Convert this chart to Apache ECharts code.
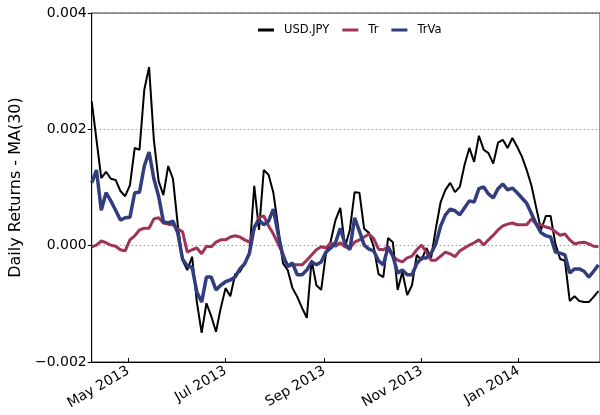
<!DOCTYPE html>
<html>
<head>
<meta charset="utf-8">
<script src="https://cdn.jsdelivr.net/npm/echarts@6/dist/echarts.min.js"></script>
<style>
  html, body { margin: 0; padding: 0; background: #fff; }
  #chartin { width: 600px; height: 415px; }
</style>
</head>
<body>
<div id="chartin"></div>
<script>
// sampled dates (every 3 days)
const dates = [
  '2013-04-08','2013-04-11','2013-04-14','2013-04-17','2013-04-20','2013-04-23','2013-04-26','2013-04-29',
  '2013-05-02','2013-05-05','2013-05-08','2013-05-11','2013-05-14','2013-05-17','2013-05-20','2013-05-23','2013-05-26','2013-05-29',
  '2013-06-01','2013-06-04','2013-06-07','2013-06-10','2013-06-13','2013-06-16','2013-06-19','2013-06-22','2013-06-25','2013-06-28',
  '2013-07-01','2013-07-04','2013-07-07','2013-07-10','2013-07-13','2013-07-16','2013-07-19','2013-07-22','2013-07-25','2013-07-28','2013-07-31',
  '2013-08-03','2013-08-06','2013-08-09','2013-08-12','2013-08-15','2013-08-18','2013-08-21','2013-08-24','2013-08-27','2013-08-30',
  '2013-09-02','2013-09-05','2013-09-08','2013-09-11','2013-09-14','2013-09-17','2013-09-20','2013-09-23','2013-09-26','2013-09-29',
  '2013-10-02','2013-10-05','2013-10-08','2013-10-11','2013-10-14','2013-10-17','2013-10-20','2013-10-23','2013-10-26','2013-10-29',
  '2013-11-01','2013-11-04','2013-11-07','2013-11-10','2013-11-13','2013-11-16','2013-11-19','2013-11-22','2013-11-25','2013-11-28',
  '2013-12-01','2013-12-04','2013-12-07','2013-12-10','2013-12-13','2013-12-16','2013-12-19','2013-12-22','2013-12-25','2013-12-28','2013-12-31',
  '2014-01-03','2014-01-06','2014-01-09','2014-01-12','2014-01-15','2014-01-18','2014-01-21','2014-01-24','2014-01-27','2014-01-30',
  '2014-02-02','2014-02-05','2014-02-08','2014-02-11','2014-02-14','2014-02-17','2014-02-20'
];

const usdJpy = [
  0.00248, 0.00182, 0.00116, 0.00127, 0.00115, 0.00113, 0.00094, 0.00085,
  0.00104, 0.00168, 0.00165, 0.00268, 0.00307, 0.00182, 0.00111, 0.00087, 0.00137, 0.00115,
  0.00036, -0.00025, -0.00042, -0.00019, -0.00097, -0.00150, -0.00099, -0.00121, -0.00148, -0.00107,
  -0.00073, -0.00087, -0.00049, -0.00045, -0.00031, -0.00013, 0.00103, 0.00027, 0.00130, 0.00122, 0.00091,
  0.00032, -0.00030, -0.00042, -0.00073, -0.00088, -0.00107, -0.00124, -0.00025, -0.00068, -0.00076,
  -0.00014, 0.00008, 0.00044, 0.00065, -0.00002, 0.00027, 0.00092, 0.00091, 0.00029, 0.00022,
  -0.00002, -0.00049, -0.00054, 0.00013, 0.00006, -0.00076, -0.00045, -0.00085, -0.00068, -0.00016,
  -0.00025, -0.00004, -0.00021, 0.00030, 0.00075, 0.00096, 0.00108, 0.00092, 0.00101, 0.00139,
  0.00168, 0.00144, 0.00189, 0.00165, 0.00159, 0.00141, 0.00177, 0.00182, 0.00168, 0.00185, 0.00170,
  0.00153, 0.00130, 0.00103, 0.00065, 0.00027, 0.00051, 0.00051, 0.00003, -0.00023, -0.00026,
  -0.00095, -0.00087, -0.00095, -0.00097, -0.00097, -0.00088, -0.00078
];

const tr = [
  -0.00002, 0.00001, 0.00008, 0.00005, 0.00001, -0.00001, -0.00007, -0.00009,
  0.00010, 0.00017, 0.00027, 0.00030, 0.00030, 0.00046, 0.00048, 0.00039, 0.00037, 0.00036,
  0.00029, 0.00024, -0.00011, -0.00007, -0.00004, -0.00014, -0.00001, -0.00002, 0.00006, 0.00010,
  0.00010, 0.00015, 0.00017, 0.00015, 0.00010, 0.00006, 0.00029, 0.00049, 0.00051, 0.00034, 0.00020,
  0.00003, -0.00014, -0.00036, -0.00033, -0.00033, -0.00033, -0.00025, -0.00016, -0.00007, -0.00002,
  -0.00004, 0.00005, -0.00001, 0.00005, -0.00002, -0.00004, 0.00006, 0.00010, 0.00015, 0.00020,
  0.00012, -0.00006, -0.00007, -0.00002, -0.00018, -0.00025, -0.00028, -0.00021, -0.00018, -0.00007,
  0.00001, -0.00011, -0.00025, -0.00025, -0.00018, -0.00011, -0.00014, -0.00019, -0.00009, -0.00004,
  0.00001, 0.00005, 0.00010, 0.00001, 0.00010, 0.00018, 0.00027, 0.00034, 0.00037, 0.00039, 0.00036,
  0.00036, 0.00036, 0.00046, 0.00037, 0.00036, 0.00032, 0.00030, 0.00024, 0.00018, 0.00020,
  0.00010, 0.00003, 0.00005, 0.00006, 0.00003, -0.00001, -0.00002
];

const trVa = [
  0.00108, 0.00130, 0.00061, 0.00091, 0.00077, 0.00061, 0.00044, 0.00048,
  0.00049, 0.00091, 0.00092, 0.00137, 0.00161, 0.00115, 0.00085, 0.00041, 0.00039, 0.00042,
  0.00022, -0.00023, -0.00035, -0.00037, -0.00080, -0.00097, -0.00054, -0.00054, -0.00076, -0.00068,
  -0.00062, -0.00059, -0.00054, -0.00040, -0.00031, -0.00013, 0.00032, 0.00044, 0.00036, 0.00042, 0.00063,
  0.00020, -0.00018, -0.00035, -0.00030, -0.00050, -0.00050, -0.00042, -0.00028, -0.00033, -0.00028,
  -0.00011, -0.00004, 0.00005, 0.00030, 0.00003, -0.00007, 0.00048, 0.00025, 0.00001, -0.00006,
  -0.00009, -0.00026, -0.00033, -0.00002, -0.00018, -0.00047, -0.00042, -0.00050, -0.00050, -0.00031,
  -0.00021, -0.00021, -0.00013, 0.00003, 0.00034, 0.00053, 0.00063, 0.00060, 0.00053, 0.00065,
  0.00077, 0.00075, 0.00098, 0.00101, 0.00089, 0.00082, 0.00098, 0.00106, 0.00096, 0.00099, 0.00091,
  0.00082, 0.00073, 0.00055, 0.00037, 0.00022, 0.00017, 0.00015, -0.00011, -0.00013, -0.00016,
  -0.00047, -0.00040, -0.00040, -0.00044, -0.00054, -0.00044, -0.00033
];

const tickDates = ['2013-05-01', '2013-07-01', '2013-09-01', '2013-11-01', '2014-01-01'];
const tickLabels = ['May 2013', 'Jul 2013', 'Sep 2013', 'Nov 2013', 'Jan 2014'];
const xStart = '2013-04-08';
const xEnd = '2014-02-21';

function toTime(s){
    const p = s.split('-');
    return new Date(+p[0], +p[1] - 1, +p[2]).getTime();
}

function pairs(values){
    return dates.map((d, i) => [toTime(d), values[i]]);
}

const tickTimes = tickDates.map(toTime);
const font = 'DejaVu Sans';

let myChart = echarts.init(document.getElementById('chartin'));

let option = {
    animation: false,
    backgroundColor: '#fff',
    grid: {
        left: 86, right: -1, top: 13, bottom: 53,
        show: true, borderColor: '#333', borderWidth: 1
    },
    legend: {
        left: 253, top: 19,
        itemWidth: 16, itemHeight: 3, itemGap: 13,
        icon: 'rect',
        textStyle: { fontFamily: font, fontSize: 11.5, color: '#000', padding: [0, 0, 0, 5] },
        data: ['USD.JPY', 'Tr', 'TrVa']
    },
    xAxis: {
        // dates as timestamps on a plain value scale
        type: 'value',
        min: toTime(xStart),
        max: toTime(xEnd),
        axisLine: { onZero: false, lineStyle: { color: '#000', width: 1 } },
        axisTick: { show: true, inside: true, length: 4, customValues: tickTimes, lineStyle: { color: '#000' } },
        axisLabel: {
            customValues: tickTimes,
            rotate: 30,
            margin: 8,
            fontFamily: font, fontSize: 14, color: '#000',
            formatter: function(v){
                const k = tickTimes.indexOf(v);
                return k >= 0 ? tickLabels[k] : '';
            }
        },
        splitLine: { show: false }
    },
    yAxis: {
        type: 'value',
        min: -0.002, max: 0.004, interval: 0.002,
        name: 'Daily Returns - MA(30)',
        nameLocation: 'middle',
        nameGap: 56,
        nameTextStyle: { fontFamily: font, fontSize: 16, color: '#000' },
        axisLine: { show: true, lineStyle: { color: '#000', width: 1 } },
        axisTick: { show: true, length: 4, lineStyle: { color: '#000' } },
        axisLabel: {
            margin: 5,
            fontFamily: font, fontSize: 14, color: '#000',
            formatter: function(v){
                const s = Math.abs(v).toFixed(3);
                return v < -1e-9 ? '\u2212' + s : s;
            }
        },
        splitLine: { show: true, lineStyle: { color: '#666', width: 1, type: [1, 3] } }
    },
    series: [
        {
            name: 'USD.JPY', type: 'line', data: pairs(usdJpy),
            showSymbol: false, symbol: 'none',
            color: '#000', lineStyle: { width: 2, color: '#000' }
        },
        {
            name: 'Tr', type: 'line', data: pairs(tr),
            showSymbol: false, symbol: 'none',
            color: '#A0335A', lineStyle: { width: 3, color: '#A0335A' }
        },
        {
            name: 'TrVa', type: 'line', data: pairs(trVa),
            showSymbol: false, symbol: 'none',
            color: '#313D7D', lineStyle: { width: 3.5, color: '#313D7D' }
        }
    ]
};

myChart.setOption(option);
</script>
</body>
</html>
